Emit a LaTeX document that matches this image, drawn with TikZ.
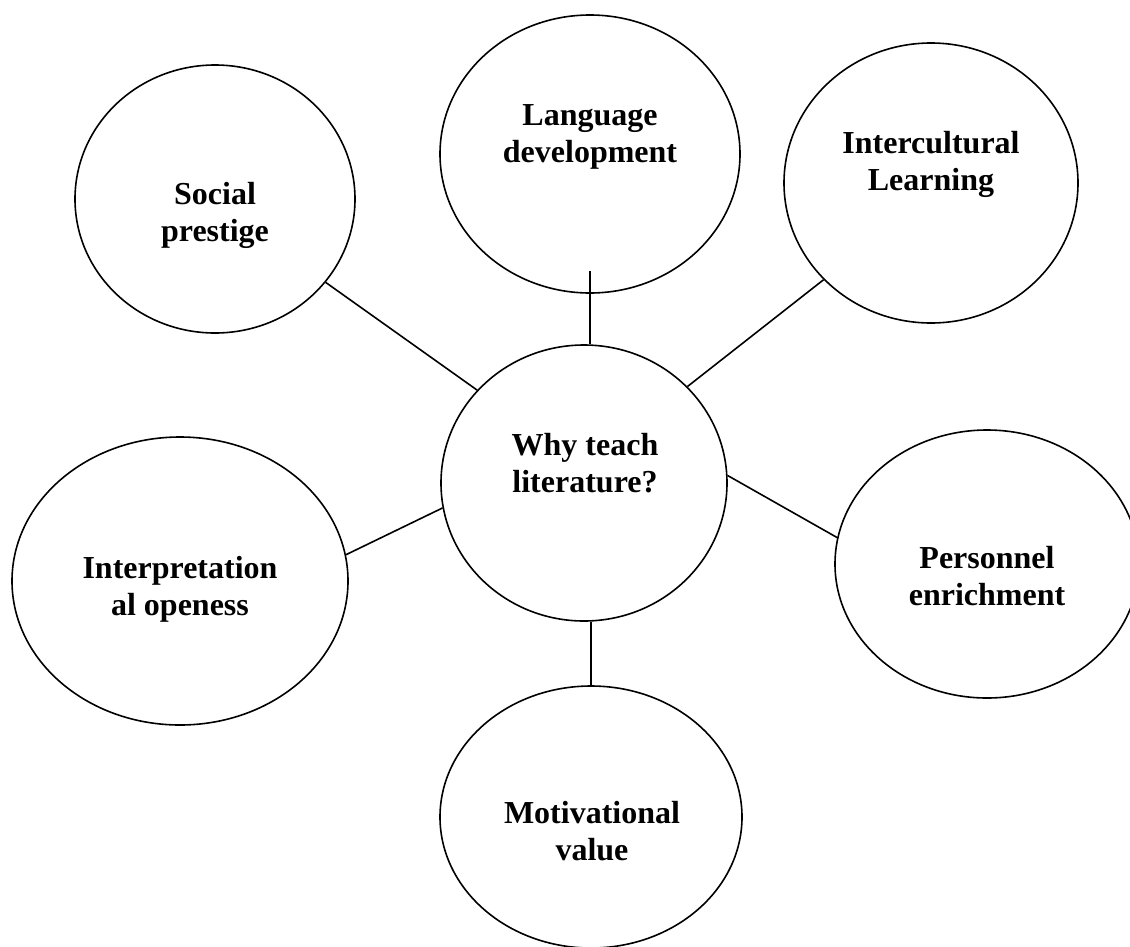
\documentclass[tikz,border=0pt]{standalone}
\usepackage{fontspec}
\setmainfont{Liberation Serif}
\usetikzlibrary{shapes.geometric}
\tikzset{
  bubble/.style={draw=black, line width=1.6pt, ellipse, inner sep=0pt, fill=none},
  lbl/.style={anchor=base, inner sep=0pt, font=\fontsize{32}{37}\selectfont\bfseries},
  link/.style={draw=black, line width=1.6pt}
}
\newcommand{\twoline}[2]{\begin{tabular}[t]{@{}c@{}}#1\\#2\end{tabular}}
\begin{document}
\begin{tikzpicture}[x=1pt, y=-1pt]
\fill[white] (0,0) rectangle (1130,946);
\useasboundingbox (0,0) rectangle (1130,946);

% bubbles
\node[bubble, minimum width=280pt, minimum height=268pt] (social) at (215,199) {};
\node[bubble, minimum width=300pt, minimum height=278pt] (lang) at (590,154) {};
\node[bubble, minimum width=294pt, minimum height=280pt] (inter) at (931,183) {};
\node[bubble, minimum width=336pt, minimum height=288pt] (interp) at (180,581) {};
\node[bubble, minimum width=286pt, minimum height=276pt] (center) at (584,483) {};
\node[bubble, minimum width=304pt, minimum height=268pt] (pers) at (987,564) {};
\node[bubble, minimum width=302pt, minimum height=262pt] (mot) at (591,817) {};

% labels
\node[lbl] (socialtxt) at (215,204) {\twoline{Social}{prestige}};
\node[lbl] (langtxt) at (590,125) {\twoline{Language}{development}};
\node[lbl] (intertxt) at (931,153) {\twoline{Intercultural}{Learning}};
\node[lbl] (interptxt) at (180,578) {\twoline{Interpretation}{al openess}};
\node[lbl] (centertxt) at (585,455) {\twoline{Why teach}{literature?}};
\node[lbl] (perstxt) at (987,568) {\twoline{Personnel}{enrichment}};
\node[lbl] (mottxt) at (592,823) {\twoline{Motivational}{value}};

% connectors
\draw[link] (social.-37.4) -- (center.139.5);
\draw[link] ([yshift=23pt]lang.south) -- (lang.south |- center.north);
\draw[link] (inter.-138.9) -- (center.43.3);
\draw[link] (interp.9.2) -- (center.-170.8);
\draw[link] (center.3.2) -- (pers.170.9);
\draw[link] (mot.north |- center.south) -- (mot.north);
\end{tikzpicture}
\end{document}
